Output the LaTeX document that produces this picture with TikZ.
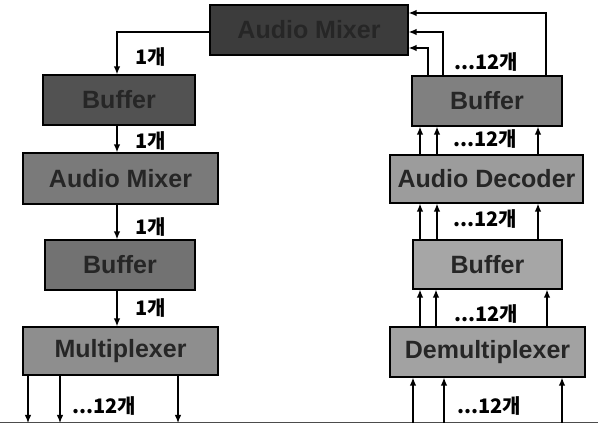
\documentclass[tikz,border=0pt]{standalone}
\usepackage{fontspec}
\setmainfont{Liberation Sans}
\newfontfamily\kr{Noto Sans CJK KR}
\usetikzlibrary{arrows.meta}
\definecolor{gA}{HTML}{3C3C3C}
\definecolor{gB}{HTML}{525252}
\definecolor{gC}{HTML}{7A7A7A}
\definecolor{gD}{HTML}{727272}
\definecolor{gE}{HTML}{8E8E8E}
\definecolor{gF}{HTML}{808080}
\definecolor{gG}{HTML}{9C9C9C}
\definecolor{gH}{HTML}{A6A6A6}
\definecolor{gI}{HTML}{A2A2A2}
\tikzset{
  blk/.style={draw=black, line width=1.2pt, inner sep=0pt, font=\fontsize{25}{25}\selectfont\bfseries, text=black!85},
  conn/.style={line width=1.3pt, -{Latex[length=8pt,width=6.5pt]}},
  lbl/.style={font=\kr\bfseries\fontsize{20}{20}\selectfont, inner sep=0pt},
}
\begin{document}
\begin{tikzpicture}[x=1pt,y=-1pt]
\useasboundingbox (0,0) rectangle (598,427);
% boxes
\node[blk, fill=gA, minimum width=198pt, minimum height=50pt] (mixT) at (309,30) {Audio Mixer};
\node[blk, fill=gB, minimum width=152pt, minimum height=50pt] (bufL1) at (119,100) {Buffer};
\node[blk, fill=gC, minimum width=195pt, minimum height=51pt] (mixL) at (120.5,178.5) {Audio Mixer};
\node[blk, fill=gD, minimum width=150pt, minimum height=50pt] (bufL2) at (120,265) {Buffer};
\node[blk, fill=gE, minimum width=195pt, minimum height=48pt] (mux) at (120.5,351) {Multiplexer};
\node[blk, fill=gF, minimum width=150pt, minimum height=50pt] (bufR1) at (487,101) {Buffer};
\node[blk, fill=gG, minimum width=193pt, minimum height=48pt] (dec) at (486.5,179) {Audio Decoder};
\node[blk, fill=gH, minimum width=149pt, minimum height=49pt] (bufR2) at (487.5,264.5) {Buffer};
\node[blk, fill=gI, minimum width=195pt, minimum height=50pt] (demux) at (487.5,352) {Demultiplexer};
% bottom line
\coordinate (bl) at (0,423);
\coordinate (br) at (598,423);
\draw[line width=1pt, black!70] (bl) -- (br);
% left column
\draw[conn] (mixT.west |- 0,32) -- (117,32) -- (117,0 |- bufL1.north);
\draw[conn] (117,0 |- bufL1.south) -- (117,0 |- mixL.north);
\draw[conn] (117,0 |- mixL.south) -- (117,0 |- bufL2.north);
\draw[conn] (117,0 |- bufL2.south) -- (117,0 |- mux.north);
\foreach \x in {28,60,178} \draw[conn] (\x,0 |- mux.south) -- (\x,0 |- bl);
% right column
\draw[conn] (428,0 |- bufR1.north) -- (428,48) -- (mixT.east |- 0,48);
\draw[conn] (443,0 |- bufR1.north) -- (443,32) -- (mixT.east |- 0,32);
\draw[conn] (546,0 |- bufR1.north) -- (546,13) -- (mixT.east |- 0,13);
\foreach \x in {420,437,538} \draw[conn] (\x,0 |- dec.north) -- (\x,0 |- bufR1.south);
\foreach \x in {420,437,538} \draw[conn] (\x,0 |- bufR2.north) -- (\x,0 |- dec.south);
\foreach \x in {420,436,547} \draw[conn] (\x,0 |- demux.north) -- (\x,0 |- bufR2.south);
\foreach \x in {413,444,562} \draw[conn] (\x,0 |- bl) -- (\x,0 |- demux.south);
% labels
\node[lbl] (l1) at (151,57) {1개};
\node[lbl] (l2) at (151,141) {1개};
\node[lbl] (l3) at (151,227) {1개};
\node[lbl] (l4) at (151,308) {1개};
\node[lbl] (l5) at (104,406) {...12개};
\node[lbl] (r1) at (486,62) {...12개};
\node[lbl] (r2) at (485,139) {...12개};
\node[lbl] (r3) at (485,219) {...12개};
\node[lbl] (r4) at (486,314) {...12개};
\node[lbl] (r5) at (489,406) {...12개};
\end{tikzpicture}
\end{document}
